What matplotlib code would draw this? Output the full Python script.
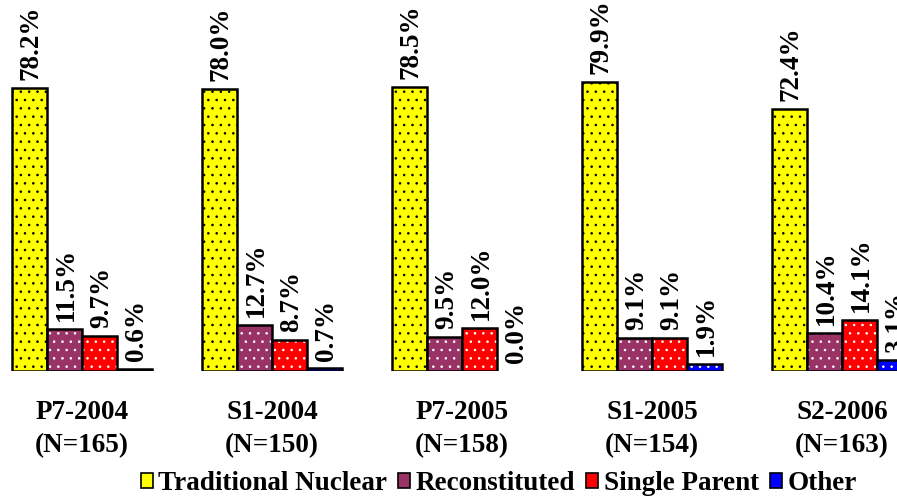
import matplotlib
matplotlib.use("Agg")
import matplotlib.pyplot as plt
import numpy as np

groups = ["P7-2004", "S1-2004", "P7-2005", "S1-2005", "S2-2006"]
sizes = [165, 150, 158, 154, 163]
series = ["Traditional Nuclear", "Reconstituted", "Single Parent", "Other"]
traditional = [78.2, 78.0, 78.5, 79.9, 72.4]
reconstituted = [11.5, 12.7, 9.5, 9.1, 10.4]
single_parent = [9.7, 8.7, 12.0, 9.1, 14.1]
other = [0.6, 0.7, 0.0, 1.9, 3.1]

values = [traditional, reconstituted, single_parent, other]
colors = ["#FFFF00", "#993366", "#FF0000", "#0000FF"]
dot_colors = ["black", "white", "white", "white"]

plt.rcParams["font.family"] = ["Liberation Serif", "DejaVu Serif"]
plt.rcParams["font.weight"] = "bold"
plt.rcParams["hatch.linewidth"] = 0.6

fig = plt.figure(figsize=(8.97, 4.97), dpi=100)
ax = fig.add_axes([0, 0.2535, 1, 0.7465])

x = np.arange(len(groups))
w = 0.184
handles = []
for j, (vals, c, dc) in enumerate(zip(values, colors, dot_colors)):
    pos = x + (j - 1.5) * w
    edges = ["black" if v > 0 else "none" for v in vals]
    ax.bar(pos, vals, width=w, color=c, edgecolor="none", linewidth=0)
    ax.bar(pos, vals, width=w, color="none", edgecolor=dc, hatch="..", linewidth=0)
    ax.bar(pos, vals, width=w, color="none", edgecolor=edges, linewidth=1.8)
    for p, v in zip(pos, vals):
        ax.text(p + 0.01, v + 2.2, f"{v:.1f}%", rotation=90, ha="center", va="bottom",
                fontsize=19.5, fontweight="bold")
    handles.append(plt.Rectangle((0, 0), 1, 1, facecolor=c, edgecolor="black",
                                 linewidth=1.2))

ax.set_xlim(-82 / 190, (897 - 82) / 190)
ax.set_ylim(0, 102.5)
ax.axis("off")

for xi, g, n in zip(x, groups, sizes):
    ax.text(xi, -11.5, g, ha="center", va="center", fontsize=19.5, fontweight="bold")
    ax.text(xi, -20.6, f"(N={n})", ha="center", va="center", fontsize=19.5,
            fontweight="bold")

fig.legend(handles, series, loc="center", bbox_to_anchor=(0.556, 0.027), ncol=4,
           frameon=False, handlelength=0.45, handleheight=0.45,
           handletextpad=0.2, columnspacing=0.4, borderaxespad=0,
           prop={"weight": "bold", "size": 19.5})

fig.savefig("out.png", dpi=100)
